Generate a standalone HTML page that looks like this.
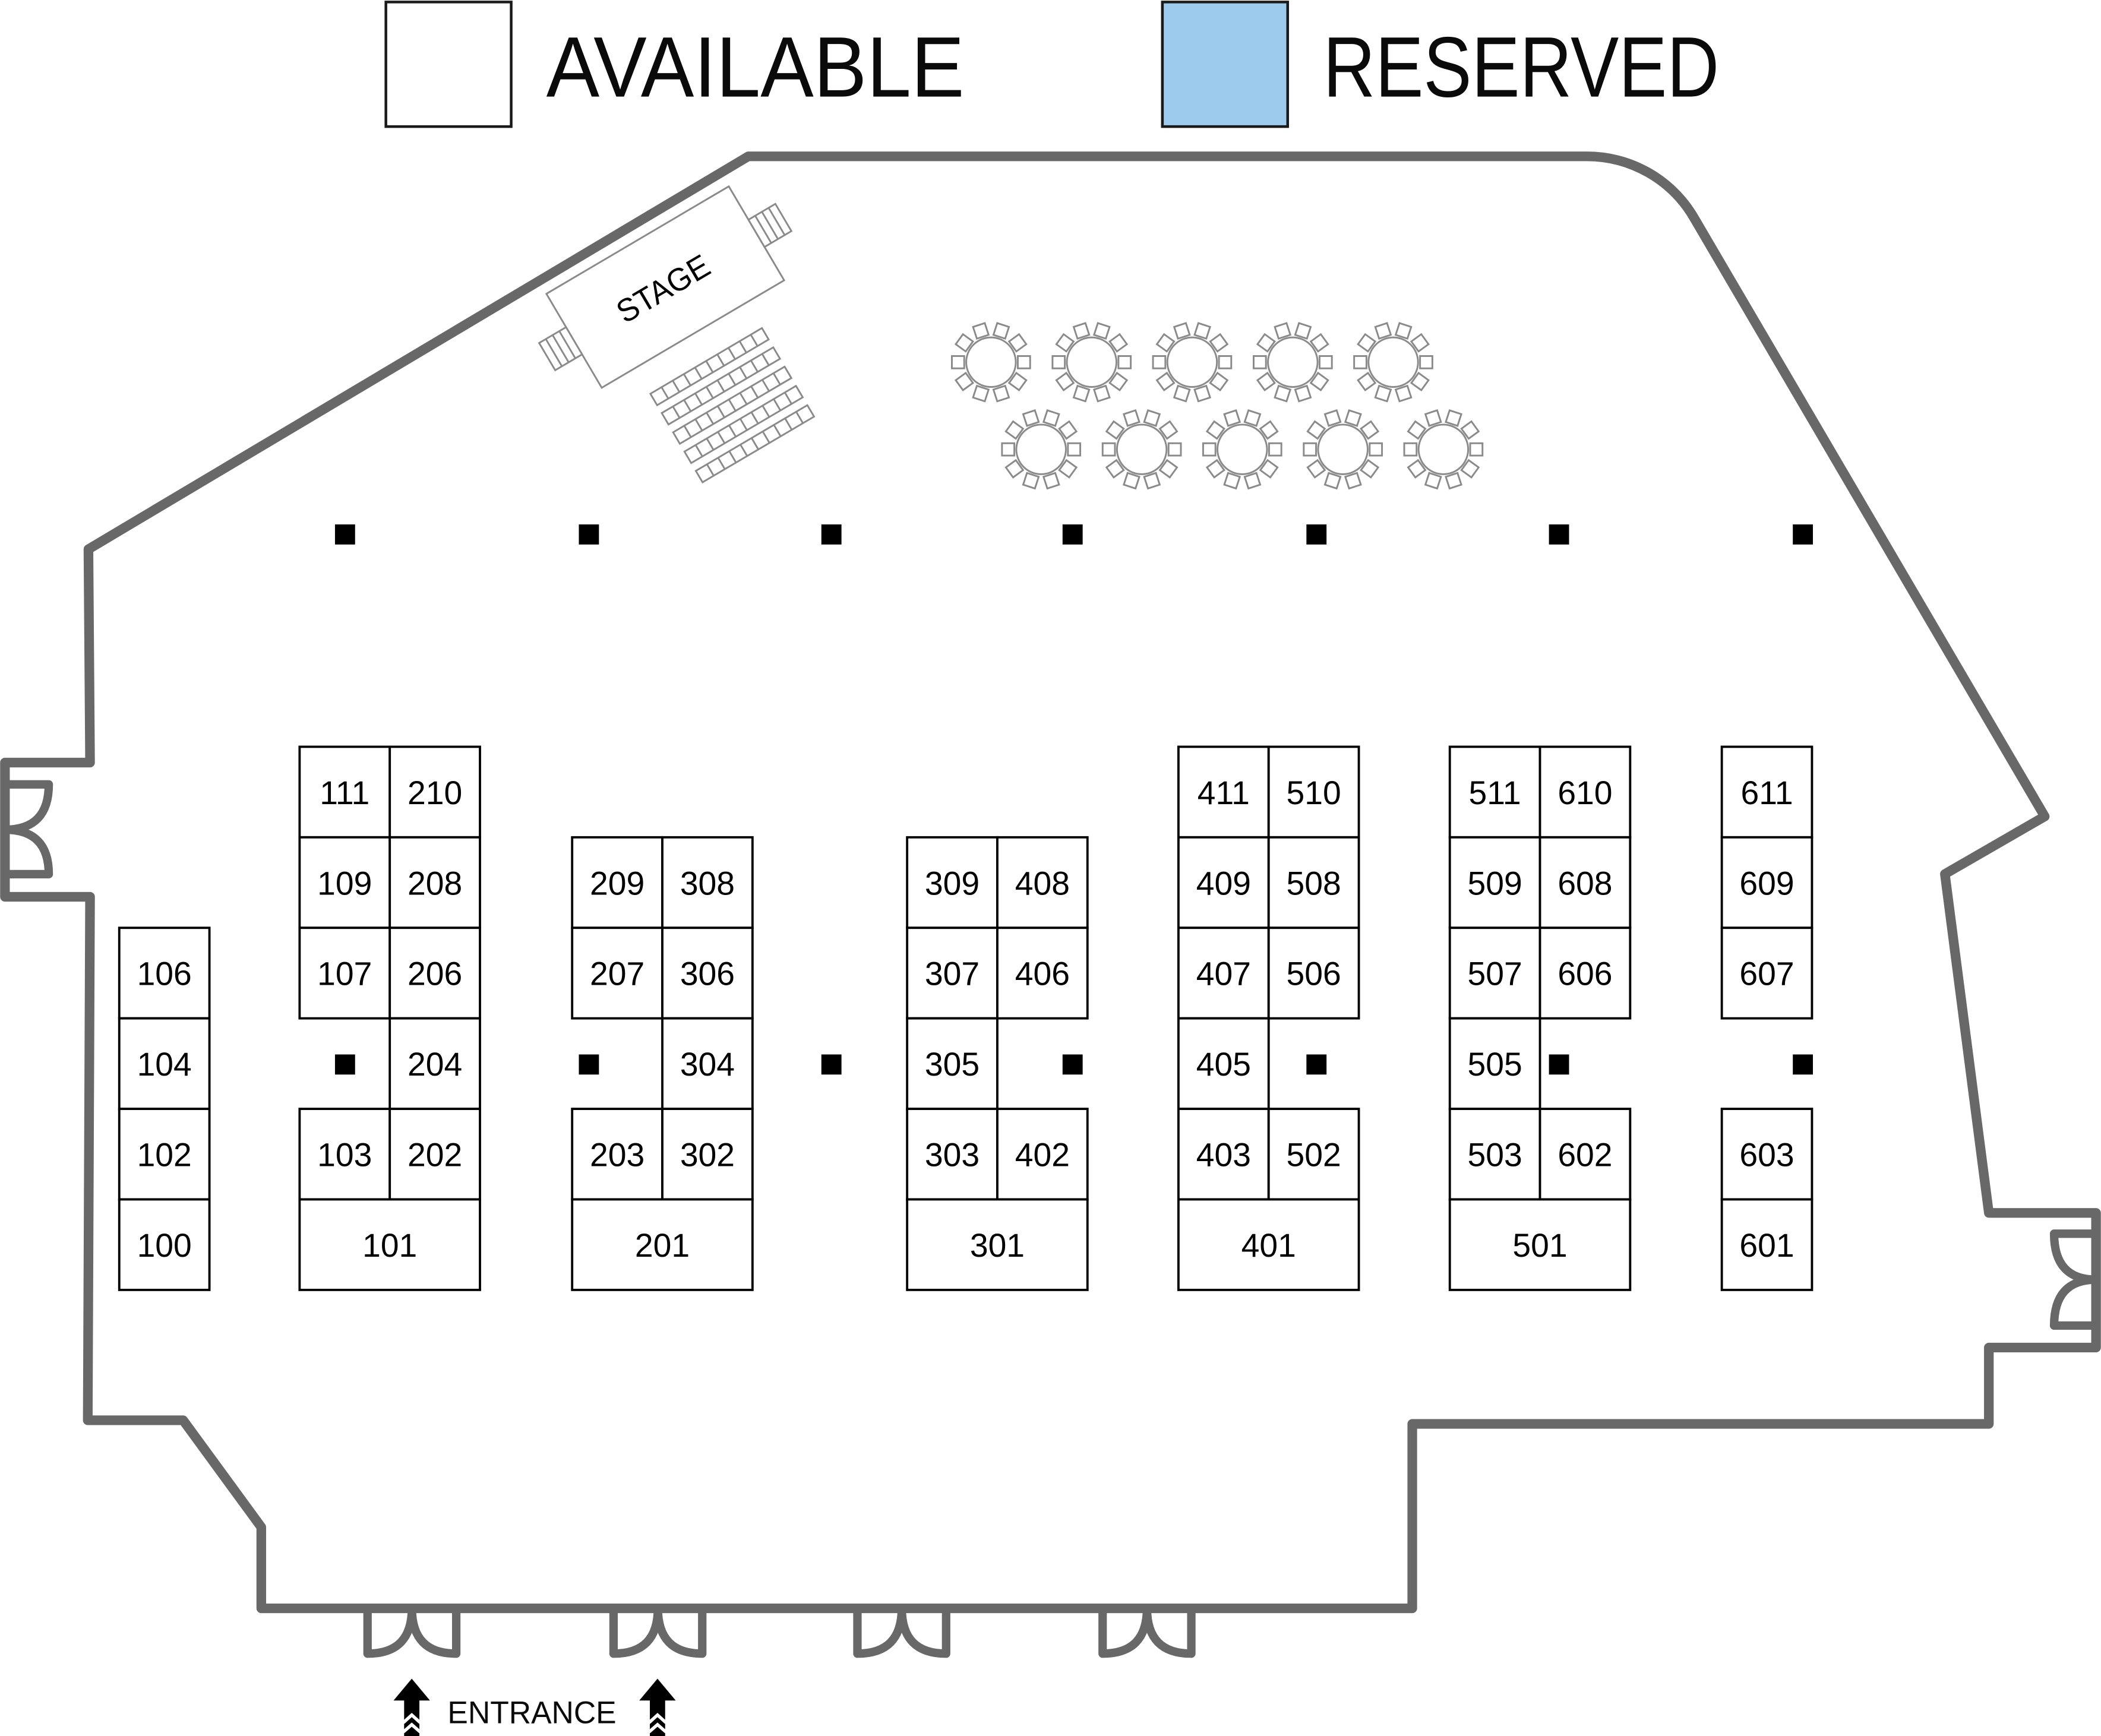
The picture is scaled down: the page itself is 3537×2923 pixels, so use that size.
<!DOCTYPE html>
<html>
<head>
<meta charset="utf-8">
<style>
  html,body{margin:0;padding:0;background:#fff;}
  svg{display:block;}
  .wall{fill:none;stroke:#686868;stroke-width:7.2;stroke-linejoin:round;stroke-linecap:round;}
  .door{fill:none;stroke:#686868;stroke-width:6.3;stroke-linejoin:round;stroke-linecap:round;}
  .b{fill:#fff;stroke:#000;stroke-width:1.7;}
  .n{font-family:"Liberation Sans",sans-serif;font-size:24.5px;fill:#000;text-anchor:middle;}
  .g{fill:#fff;stroke:#8a8a8a;stroke-width:1.3;}
  .gl{fill:none;stroke:#8a8a8a;stroke-width:1.3;}
  .p{fill:#000;}
</style>
</head>
<body>
<svg width="3537" height="2923" viewBox="0 0 1568 1296" preserveAspectRatio="none" xmlns="http://www.w3.org/2000/svg">
<defs>
  <g id="t">
    <rect class="g" x="20" y="-4.6" width="9.2" height="9.2" transform="rotate(0)"/>
    <rect class="g" x="20" y="-4.6" width="9.2" height="9.2" transform="rotate(36)"/>
    <rect class="g" x="20" y="-4.6" width="9.2" height="9.2" transform="rotate(72)"/>
    <rect class="g" x="20" y="-4.6" width="9.2" height="9.2" transform="rotate(108)"/>
    <rect class="g" x="20" y="-4.6" width="9.2" height="9.2" transform="rotate(144)"/>
    <rect class="g" x="20" y="-4.6" width="9.2" height="9.2" transform="rotate(180)"/>
    <rect class="g" x="20" y="-4.6" width="9.2" height="9.2" transform="rotate(216)"/>
    <rect class="g" x="20" y="-4.6" width="9.2" height="9.2" transform="rotate(252)"/>
    <rect class="g" x="20" y="-4.6" width="9.2" height="9.2" transform="rotate(288)"/>
    <rect class="g" x="20" y="-4.6" width="9.2" height="9.2" transform="rotate(324)"/>
    <circle class="g" cx="0" cy="0" r="18.5"/>
  </g>
  <g id="row">
    <rect class="g" x="-50" y="0" width="96.6" height="9.9"/>
    <path class="gl" d="M-40.34,0V9.9M-30.68,0V9.9M-21.02,0V9.9M-11.36,0V9.9M-1.7,0V9.9M7.96,0V9.9M17.62,0V9.9M27.28,0V9.9M36.94,0V9.9"/>
  </g>
</defs>

<!-- Legend -->
<rect x="288" y="1.5" width="93.5" height="93" fill="#fff" stroke="#1a1a1a" stroke-width="2"/>
<text x="407.7" y="72.1" font-family="Liberation Sans, sans-serif" font-size="64" fill="#0a0a0a" textLength="312" lengthAdjust="spacingAndGlyphs">AVAILABLE</text>
<rect x="867.5" y="1.5" width="93.5" height="93" fill="#9dcbed" stroke="#1a1a1a" stroke-width="2"/>
<text x="987.5" y="72.1" font-family="Liberation Sans, sans-serif" font-size="64" fill="#0a0a0a" textLength="295.5" lengthAdjust="spacingAndGlyphs">RESERVED</text>

<!-- Outer wall -->
<path class="wall" d="M558.5,116.7 L1183.7,116.7 A92.5,92.5 0 0 1 1264.2,162.5 L1526,609.5 L1451.5,652.5 L1484.3,905.5 L1564.3,905.5 L1564.3,1006 L1484.3,1006 L1484.3,1063 L1054,1063 L1054,1200.7 L195,1200.7 L195,1140.1 L136.7,1060.3 L65.5,1060.3 L67.2,669.5 L3.7,669.5 L3.7,569.3 L67.2,569.3 L66,410 Z"/>

<!-- Left door -->
<path class="door" d="M3.7,585.6 L36.4,585.6 Q36.4,619.4 3.7,619.4 Q36.4,619.4 36.4,652.6 L3.7,652.6"/>
<!-- Right door -->
<path class="door" d="M1564.3,921 L1533,921 Q1533,955.3 1564.3,955.3 Q1533,955.3 1533,989.6 L1564.3,989.6"/>
<!-- Bottom doors -->
<path class="door" d="M274.3,1200.7 L274.3,1234.5 Q307.4,1234.5 307.4,1200.7 Q307.4,1234.5 340.5,1234.5 L340.5,1200.7"/>
<path class="door" d="M457.9,1200.7 L457.9,1234.5 Q491,1234.5 491,1200.7 Q491,1234.5 524.1,1234.5 L524.1,1200.7"/>
<path class="door" d="M639.9,1200.7 L639.9,1234.5 Q673,1234.5 673,1200.7 Q673,1234.5 706.1,1234.5 L706.1,1200.7"/>
<path class="door" d="M822.9,1200.7 L822.9,1234.5 Q856,1234.5 856,1200.7 Q856,1234.5 889.1,1234.5 L889.1,1200.7"/>

<!-- Entrance arrows -->
<g>
  <polygon class="p" points="307.3,1253.2 320.9,1269.5 313,1269.5 313,1296 301.6,1296 301.6,1269.5 293.7,1269.5"/>
  <polyline points="301,1286 307.3,1280.3 313.6,1286" fill="none" stroke="#fff" stroke-width="2.4"/>
  <polyline points="301,1293 307.3,1287.5 313.6,1293" fill="none" stroke="#fff" stroke-width="2.4"/>
  <polygon class="p" points="490.7,1253.2 504.3,1269.5 496.4,1269.5 496.4,1296 485,1296 485,1269.5 477.1,1269.5"/>
  <polyline points="484.4,1286 490.7,1280.3 497,1286" fill="none" stroke="#fff" stroke-width="2.4"/>
  <polyline points="484.4,1293 490.7,1287.5 497,1293" fill="none" stroke="#fff" stroke-width="2.4"/>
</g>
<text x="334" y="1286.5" font-family="Liberation Sans, sans-serif" font-size="23.5" fill="#0a0a0a" textLength="126" lengthAdjust="spacingAndGlyphs">ENTRANCE</text>

<!-- Stage -->
<g transform="translate(496.5,214.3) rotate(-30.5)">
  <rect class="g" x="-79" y="-40.7" width="158" height="81.4"/>
  <rect class="g" x="79" y="-11.8" width="23.3" height="23.6"/>
  <path class="gl" d="M84.83,-11.8V11.8M90.66,-11.8V11.8M96.49,-11.8V11.8"/>
  <rect class="g" x="-102.3" y="-11.8" width="23.3" height="23.6"/>
  <path class="gl" d="M-84.83,-11.8V11.8M-90.66,-11.8V11.8M-96.49,-11.8V11.8"/>
  <text x="-2" y="8.5" font-family="Liberation Sans, sans-serif" font-size="24" fill="#000" text-anchor="middle" textLength="76" lengthAdjust="spacingAndGlyphs">STAGE</text>
  <use href="#row" x="0" y="63"/>
  <use href="#row" x="0" y="79.7"/>
  <use href="#row" x="0" y="96.4"/>
  <use href="#row" x="0" y="113.1"/>
  <use href="#row" x="0" y="129.8"/>
</g>

<!-- Round tables -->
<use href="#t" x="739.6" y="270.4"/>
<use href="#t" x="814.7" y="270.4"/>
<use href="#t" x="889.7" y="270.4"/>
<use href="#t" x="964.8" y="270.4"/>
<use href="#t" x="1039.8" y="270.4"/>
<use href="#t" x="777" y="335.5"/>
<use href="#t" x="852.1" y="335.5"/>
<use href="#t" x="927.1" y="335.5"/>
<use href="#t" x="1002.2" y="335.5"/>
<use href="#t" x="1077.2" y="335.5"/>

<!-- Top pillars -->
<rect class="p" x="250" y="391.5" width="15" height="15"/>
<rect class="p" x="432" y="391.5" width="15" height="15"/>
<rect class="p" x="613" y="391.5" width="15" height="15"/>
<rect class="p" x="793" y="391.5" width="15" height="15"/>
<rect class="p" x="975" y="391.5" width="15" height="15"/>
<rect class="p" x="1156" y="391.5" width="15" height="15"/>
<rect class="p" x="1338" y="391.5" width="15" height="15"/>

<!-- Mid pillars -->
<rect class="p" x="250" y="787.2" width="15" height="15"/>
<rect class="p" x="432" y="787.2" width="15" height="15"/>
<rect class="p" x="613" y="787.2" width="15" height="15"/>
<rect class="p" x="793" y="787.2" width="15" height="15"/>
<rect class="p" x="975" y="787.2" width="15" height="15"/>
<rect class="p" x="1156" y="787.2" width="15" height="15"/>
<rect class="p" x="1338" y="787.2" width="15" height="15"/>

<!-- Block A -->
<rect class="b" x="89" y="692.66" width="67.3" height="67.58"/>
<rect class="b" x="89" y="760.24" width="67.3" height="67.58"/>
<rect class="b" x="89" y="827.82" width="67.3" height="67.58"/>
<rect class="b" x="89" y="895.4" width="67.3" height="67.58"/>
<text class="n" x="122.65" y="735.4">106</text>
<text class="n" x="122.65" y="803">104</text>
<text class="n" x="122.65" y="870.6">102</text>
<text class="n" x="122.65" y="938.2">100</text>

<!-- Block B -->
<rect class="b" x="223.6" y="557.5" width="67.3" height="67.58"/>
<rect class="b" x="290.9" y="557.5" width="67.3" height="67.58"/>
<rect class="b" x="223.6" y="625.08" width="67.3" height="67.58"/>
<rect class="b" x="290.9" y="625.08" width="67.3" height="67.58"/>
<rect class="b" x="223.6" y="692.66" width="67.3" height="67.58"/>
<rect class="b" x="290.9" y="692.66" width="67.3" height="67.58"/>
<rect class="b" x="290.9" y="760.24" width="67.3" height="67.58"/>
<rect class="b" x="223.6" y="827.82" width="67.3" height="67.58"/>
<rect class="b" x="290.9" y="827.82" width="67.3" height="67.58"/>
<rect class="b" x="223.6" y="895.4" width="134.6" height="67.58"/>
<text class="n" x="257.25" y="600.3">111</text>
<text class="n" x="324.55" y="600.3">210</text>
<text class="n" x="257.25" y="667.9">109</text>
<text class="n" x="324.55" y="667.9">208</text>
<text class="n" x="257.25" y="735.4">107</text>
<text class="n" x="324.55" y="735.4">206</text>
<text class="n" x="324.55" y="803">204</text>
<text class="n" x="257.25" y="870.6">103</text>
<text class="n" x="324.55" y="870.6">202</text>
<text class="n" x="290.9" y="938.2">101</text>

<!-- Block C -->
<rect class="b" x="427" y="625.08" width="67.3" height="67.58"/>
<rect class="b" x="494.3" y="625.08" width="67.3" height="67.58"/>
<rect class="b" x="427" y="692.66" width="67.3" height="67.58"/>
<rect class="b" x="494.3" y="692.66" width="67.3" height="67.58"/>
<rect class="b" x="494.3" y="760.24" width="67.3" height="67.58"/>
<rect class="b" x="427" y="827.82" width="67.3" height="67.58"/>
<rect class="b" x="494.3" y="827.82" width="67.3" height="67.58"/>
<rect class="b" x="427" y="895.4" width="134.6" height="67.58"/>
<text class="n" x="460.65" y="667.9">209</text>
<text class="n" x="527.95" y="667.9">308</text>
<text class="n" x="460.65" y="735.4">207</text>
<text class="n" x="527.95" y="735.4">306</text>
<text class="n" x="527.95" y="803">304</text>
<text class="n" x="460.65" y="870.6">203</text>
<text class="n" x="527.95" y="870.6">302</text>
<text class="n" x="494.3" y="938.2">201</text>

<!-- Block D -->
<rect class="b" x="677" y="625.08" width="67.3" height="67.58"/>
<rect class="b" x="744.3" y="625.08" width="67.3" height="67.58"/>
<rect class="b" x="677" y="692.66" width="67.3" height="67.58"/>
<rect class="b" x="744.3" y="692.66" width="67.3" height="67.58"/>
<rect class="b" x="677" y="760.24" width="67.3" height="67.58"/>
<rect class="b" x="677" y="827.82" width="67.3" height="67.58"/>
<rect class="b" x="744.3" y="827.82" width="67.3" height="67.58"/>
<rect class="b" x="677" y="895.4" width="134.6" height="67.58"/>
<text class="n" x="710.65" y="667.9">309</text>
<text class="n" x="777.95" y="667.9">408</text>
<text class="n" x="710.65" y="735.4">307</text>
<text class="n" x="777.95" y="735.4">406</text>
<text class="n" x="710.65" y="803">305</text>
<text class="n" x="710.65" y="870.6">303</text>
<text class="n" x="777.95" y="870.6">402</text>
<text class="n" x="744.3" y="938.2">301</text>

<!-- Block E -->
<rect class="b" x="879.5" y="557.5" width="67.3" height="67.58"/>
<rect class="b" x="946.8" y="557.5" width="67.3" height="67.58"/>
<rect class="b" x="879.5" y="625.08" width="67.3" height="67.58"/>
<rect class="b" x="946.8" y="625.08" width="67.3" height="67.58"/>
<rect class="b" x="879.5" y="692.66" width="67.3" height="67.58"/>
<rect class="b" x="946.8" y="692.66" width="67.3" height="67.58"/>
<rect class="b" x="879.5" y="760.24" width="67.3" height="67.58"/>
<rect class="b" x="879.5" y="827.82" width="67.3" height="67.58"/>
<rect class="b" x="946.8" y="827.82" width="67.3" height="67.58"/>
<rect class="b" x="879.5" y="895.4" width="134.6" height="67.58"/>
<text class="n" x="913.15" y="600.3">411</text>
<text class="n" x="980.45" y="600.3">510</text>
<text class="n" x="913.15" y="667.9">409</text>
<text class="n" x="980.45" y="667.9">508</text>
<text class="n" x="913.15" y="735.4">407</text>
<text class="n" x="980.45" y="735.4">506</text>
<text class="n" x="913.15" y="803">405</text>
<text class="n" x="913.15" y="870.6">403</text>
<text class="n" x="980.45" y="870.6">502</text>
<text class="n" x="946.8" y="938.2">401</text>

<!-- Block F -->
<rect class="b" x="1082" y="557.5" width="67.3" height="67.58"/>
<rect class="b" x="1149.3" y="557.5" width="67.3" height="67.58"/>
<rect class="b" x="1082" y="625.08" width="67.3" height="67.58"/>
<rect class="b" x="1149.3" y="625.08" width="67.3" height="67.58"/>
<rect class="b" x="1082" y="692.66" width="67.3" height="67.58"/>
<rect class="b" x="1149.3" y="692.66" width="67.3" height="67.58"/>
<rect class="b" x="1082" y="760.24" width="67.3" height="67.58"/>
<rect class="b" x="1082" y="827.82" width="67.3" height="67.58"/>
<rect class="b" x="1149.3" y="827.82" width="67.3" height="67.58"/>
<rect class="b" x="1082" y="895.4" width="134.6" height="67.58"/>
<text class="n" x="1115.65" y="600.3">511</text>
<text class="n" x="1182.95" y="600.3">610</text>
<text class="n" x="1115.65" y="667.9">509</text>
<text class="n" x="1182.95" y="667.9">608</text>
<text class="n" x="1115.65" y="735.4">507</text>
<text class="n" x="1182.95" y="735.4">606</text>
<text class="n" x="1115.65" y="803">505</text>
<text class="n" x="1115.65" y="870.6">503</text>
<text class="n" x="1182.95" y="870.6">602</text>
<text class="n" x="1149.3" y="938.2">501</text>

<!-- Block G -->
<rect class="b" x="1285" y="557.5" width="67.3" height="67.58"/>
<rect class="b" x="1285" y="625.08" width="67.3" height="67.58"/>
<rect class="b" x="1285" y="692.66" width="67.3" height="67.58"/>
<rect class="b" x="1285" y="827.82" width="67.3" height="67.58"/>
<rect class="b" x="1285" y="895.4" width="67.3" height="67.58"/>
<text class="n" x="1318.65" y="600.3">611</text>
<text class="n" x="1318.65" y="667.9">609</text>
<text class="n" x="1318.65" y="735.4">607</text>
<text class="n" x="1318.65" y="870.6">603</text>
<text class="n" x="1318.65" y="938.2">601</text>

</svg>
</body>
</html>
